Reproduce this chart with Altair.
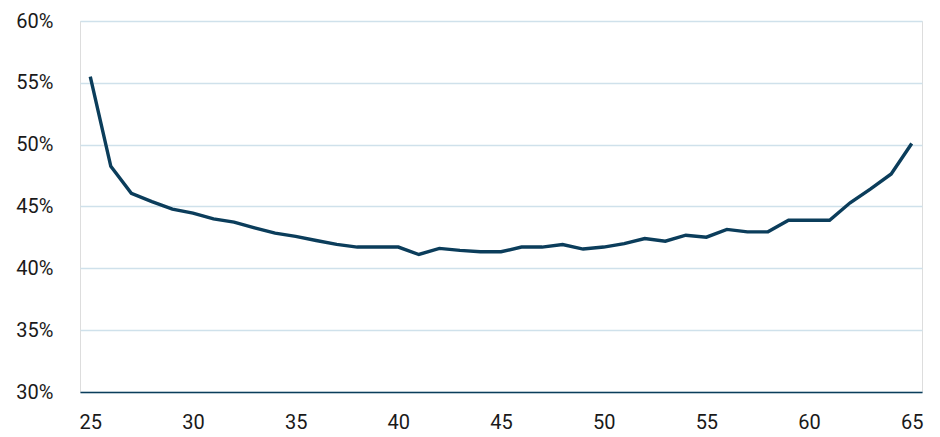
import altair as alt
import pandas as pd

ages = list(range(25, 66))
shares = [55.5, 48.25, 46.07, 45.4, 44.79, 44.47, 44.0, 43.74, 43.28, 42.85,
          42.58, 42.25, 41.94, 41.72, 41.72, 41.72, 41.12, 41.61, 41.45, 41.34,
          41.34, 41.72, 41.72, 41.92, 41.56, 41.72, 42.0, 42.41, 42.19, 42.68,
          42.52, 43.15, 42.95, 42.95, 43.89, 43.89, 43.89, 45.3, 46.43, 47.63,
          50.1]
x_ticks = [25, 30, 35, 40, 45, 50, 55, 60, 65]
y_ticks = [0.30, 0.35, 0.40, 0.45, 0.50, 0.55, 0.60]

df = pd.DataFrame({"age": ages, "share": [s / 100 for s in shares]})

navy = "#0b3d5b"
grid = "#cfe1eb"

chart = alt.Chart(df).mark_line(color=navy, strokeWidth=3.4, strokeJoin="miter").encode(
    x=alt.X("age:Q",
            scale=alt.Scale(domain=[24.5, 65.5], nice=False, zero=False),
            axis=alt.Axis(values=x_ticks, title=None, grid=False, ticks=False,
                          domain=True, domainColor=navy, domainWidth=1.5,
                          labelFont="Roboto", labelFontSize=20, labelColor="#1a1a1a",
                          labelPadding=20, labelAngle=0)),
    y=alt.Y("share:Q",
            scale=alt.Scale(domain=[0.30, 0.60], nice=False, zero=False),
            axis=alt.Axis(values=y_ticks, format=".0%", title=None, grid=True,
                          gridColor=grid, gridWidth=1.5, ticks=False, domain=False,
                          labelFont="Roboto", labelFontSize=20, labelColor="#1a1a1a",
                          labelPadding=27)),
).properties(
    width=842,
    height=371,
    autosize=alt.AutoSizeParams(type="none"),
    padding={"left": 72, "top": 13, "right": 10, "bottom": 40},
).configure_view(stroke=None).configure(background="white")

chart.save("out.html", embed_options={"renderer": "svg", "actions": False})
